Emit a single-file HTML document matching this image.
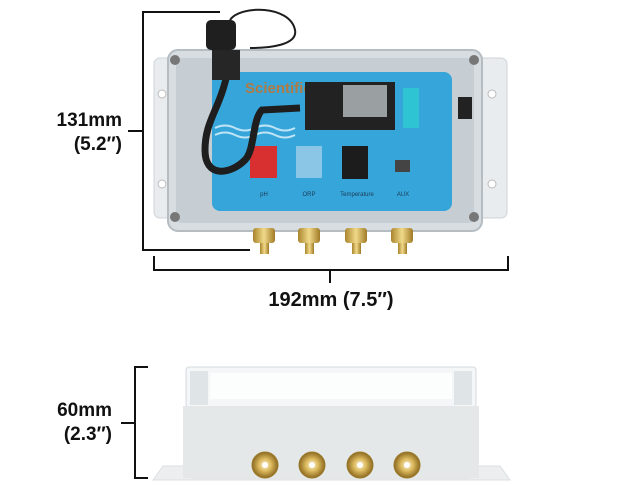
<!DOCTYPE html>
<html><head><meta charset="utf-8"><style>
html,body{margin:0;padding:0;background:#fff;width:630px;height:486px;overflow:hidden}
</style></head><body>
<svg width="630" height="486" viewBox="0 0 630 486" xmlns="http://www.w3.org/2000/svg" font-family="Liberation Sans, sans-serif">
<defs>
<linearGradient id="gold" x1="0" x2="1"><stop offset="0" stop-color="#a9852c"/><stop offset=".5" stop-color="#f0d98a"/><stop offset="1" stop-color="#a07a25"/></linearGradient>
<radialGradient id="rg"><stop offset="0" stop-color="#fff6d0"/><stop offset=".5" stop-color="#d9b65a"/><stop offset="1" stop-color="#8c6a22"/></radialGradient>
</defs>
<!-- dimension lines top -->
<g stroke="#111" stroke-width="2" fill="none">
<path d="M220 12 H143 V250 H250"/>
<path d="M128 131 H143"/>
<path d="M154 256 V270 H508 V256"/>
<path d="M330 270 V283"/>
<path d="M148 367 H135 V478 H148"/>
<path d="M121 423 H135"/>
</g>
<g font-weight="bold" font-size="19" fill="#111" text-anchor="end">
<text x="122" y="126">131mm</text>
<text x="122" y="150">(5.2″)</text>
<text x="112" y="416">60mm</text>
<text x="112" y="440">(2.3″)</text>
</g>
<text x="331" y="306" font-weight="bold" font-size="20" fill="#111" text-anchor="middle">192mm (7.5″)</text>

<!-- top enclosure -->
<rect x="154" y="58" width="353" height="160" rx="6" fill="#e9ecee" stroke="#cfd4d8"/>
<circle cx="162" cy="94" r="4" fill="#fff" stroke="#bbb"/><circle cx="162" cy="184" r="4" fill="#fff" stroke="#bbb"/>
<circle cx="492" cy="94" r="4" fill="#fff" stroke="#bbb"/><circle cx="492" cy="184" r="4" fill="#fff" stroke="#bbb"/>
<rect x="168" y="50" width="314" height="181" rx="10" fill="#d7dde1" stroke="#b5bcc2" stroke-width="2"/>
<rect x="176" y="58" width="298" height="165" rx="6" fill="#c6ced4"/>
<rect x="212" y="72" width="240" height="139" rx="8" fill="#36a6da"/>
<text x="245" y="93" font-size="15" font-weight="bold" fill="#b07a45">Scientific</text>
<path d="M215 128 q10 -5 20 0 t20 0 t20 0 t20 0 M215 135 q10 -5 20 0 t20 0 t20 0 t20 0" stroke="#bfe4f5" stroke-width="2" fill="none"/>
<rect x="305" y="82" width="90" height="48" fill="#222"/>
<rect x="343" y="85" width="44" height="32" fill="#9aa0a2"/>
<rect x="403" y="88" width="16" height="40" fill="#2fc4d4"/>
<rect x="250" y="146" width="27" height="32" fill="#d83030"/>
<rect x="296" y="146" width="26" height="32" fill="#8cc6e6"/>
<rect x="342" y="146" width="26" height="33" fill="#1c1c1c"/>
<rect x="395" y="160" width="15" height="12" fill="#444"/>
<g font-size="6" fill="#1a3a55" text-anchor="middle"><text x="264" y="196">pH</text><text x="309" y="196">ORP</text><text x="357" y="196">Temperature</text><text x="403" y="196">AUX</text></g>
<!-- cable -->
<path d="M228 70 C220 110 205 120 205 150 C205 178 230 175 245 160 C255 150 252 120 262 110 L300 108" stroke="#1e1e1e" stroke-width="7" fill="none"/>
<rect x="206" y="20" width="30" height="30" rx="5" fill="#1f1f1f"/>
<rect x="212" y="50" width="28" height="30" fill="#262626"/>
<path d="M230 20 C240 5 290 5 295 30 C298 45 270 48 250 48" stroke="#1e1e1e" stroke-width="2" fill="none"/>
<rect x="458" y="97" width="14" height="22" fill="#222"/>
<g fill="#777"><circle cx="175" cy="60" r="5"/><circle cx="474" cy="60" r="5"/><circle cx="175" cy="217" r="5"/><circle cx="474" cy="217" r="5"/></g>
<!-- connectors top -->
<g>
<rect x="253" y="228" width="22" height="15" rx="3" fill="url(#gold)"/><rect x="260" y="243" width="9" height="11" fill="url(#gold)"/>
<rect x="298" y="228" width="22" height="15" rx="3" fill="url(#gold)"/><rect x="305" y="243" width="9" height="11" fill="url(#gold)"/>
<rect x="345" y="228" width="22" height="15" rx="3" fill="url(#gold)"/><rect x="352" y="243" width="9" height="11" fill="url(#gold)"/>
<rect x="391" y="228" width="22" height="15" rx="3" fill="url(#gold)"/><rect x="398" y="243" width="9" height="11" fill="url(#gold)"/>
</g>

<!-- bottom side view -->
<path d="M153 480 L163 466 H193 V478 H470 V466 H500 L510 480 Z" fill="#eceeef" stroke="#dcdfe1"/>
<rect x="186" y="367" width="290" height="40" rx="3" fill="#f4f6f7" stroke="#d6dbde"/>
<rect x="190" y="371" width="18" height="34" fill="#dfe4e7"/><rect x="454" y="371" width="18" height="34" fill="#dfe4e7"/>
<rect x="210" y="373" width="242" height="26" fill="#fcfdfd"/>
<rect x="183" y="406" width="296" height="72" fill="#e5e8e9"/>
<g stroke="#9b7a2a" stroke-width="1">
<circle cx="265" cy="465" r="13" fill="url(#rg)"/><circle cx="312" cy="465" r="13" fill="url(#rg)"/>
<circle cx="360" cy="465" r="13" fill="url(#rg)"/><circle cx="407" cy="465" r="13" fill="url(#rg)"/>
</g>
<g fill="#fff"><circle cx="265" cy="465" r="3"/><circle cx="312" cy="465" r="3"/><circle cx="360" cy="465" r="3"/><circle cx="407" cy="465" r="3"/></g>
</svg>
</body></html>
